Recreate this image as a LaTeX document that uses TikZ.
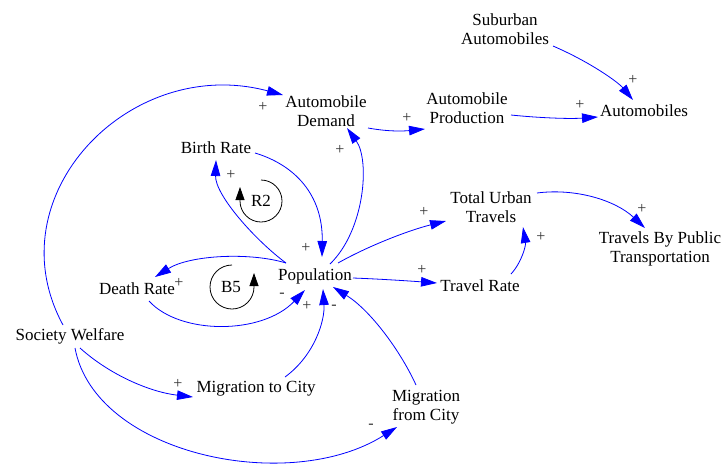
\documentclass[tikz,border=0pt]{standalone}
\usepackage{fontspec}
\setmainfont{Liberation Serif}
\usetikzlibrary{arrows.meta,calc}
\begin{document}
\begin{tikzpicture}[x=1pt,y=-1pt,
  var/.style={align=center,inner sep=1pt,font=\fontsize{17}{19.5}\selectfont},
  link/.style={draw=blue,line width=0.8pt,-{Triangle[length=16pt,width=9.5pt]}},
  pol/.style={font=\fontsize{16}{16}\selectfont,text=black!80,inner sep=0pt},
  loopar/.style={draw=black,line width=0.8pt,-{Triangle[length=13pt,width=9pt]}},
  looplab/.style={font=\fontsize{17}{17}\selectfont,inner sep=0pt}]
\useasboundingbox (0,0) rectangle (722,464);
% variables
\node[var] (sub) at (505,29) {Suburban\\Automobiles};
\node[var] (autos) at (644,111) {Automobiles};
\node[var] (aprod) at (467,108) {Automobile\\Production};
\node[var] (ademand) at (326,111) {Automobile\\Demand};
\node[var] (birth) at (216,148) {Birth Rate};
\node[var] (pop) at (315,276) {Population};
\node[var] (death) at (137,289) {Death Rate};
\node[var] (sw) at (70,336) {Society Welfare};
\node[var] (mtc) at (256,389) {Migration to City};
\node[var] (mfc) at (426,407) {Migration\\from City};
\node[var] (travel) at (480,286) {Travel Rate};
\node[var] (tut) at (491,207) {Total Urban\\Travels};
\node[var] (tbp) at (660,249) {Travels By Public\\Transportation};
% links
\draw[link] ($(sub)+(48,17)$) .. controls (590,62) and (618,82) .. ($(autos)+(-11,-11)$);
\draw[link] ($(aprod)+(44,7)$) .. controls (540,118) and (570,119) .. ($(autos)+(-46,6)$);
\draw[link] ($(ademand)+(42,17)$) .. controls (390,132) and (405,131) .. ($(aprod)+(-42,21)$);
\draw[link] ($(sw)+(-7,-11)$) .. controls (-7,196) and (130,54) .. ($(ademand)+(-43,-16)$);
\draw[link] ($(birth)+(39,5)$) .. controls (295,165) and (323,195) .. ($(pop)+(7,-19)$);
\draw[link] ($(pop)+(-29,-13)$) .. controls (255,240) and (215,195) .. ($(birth)+(0,12)$);
\draw[link] ($(pop)+(-29,-13)$) .. controls (250,252) and (190,255) .. ($(death)+(18,-12)$);
\draw[link] ($(death)+(12,12)$) .. controls (180,335) and (262,335) .. ($(pop)+(-10,14)$);
\draw[link] ($(pop)+(15,-12)$) .. controls (365,230) and (370,160) .. ($(ademand)+(21,17)$);
\draw[link] ($(pop)+(23,-13)$) .. controls (370,245) and (410,230) .. ($(tut)+(-45,14)$);
\draw[link] ($(pop)+(38,2)$) .. controls (380,279) and (410,281) .. ($(travel)+(-43,-3)$);
\draw[link] ($(travel)+(31,-12)$) .. controls (522,262) and (526,245) .. ($(tut)+(32,20)$);
\draw[link] ($(tut)+(46,-14)$) .. controls (575,188) and (615,200) .. ($(tbp)+(-15,-21)$);
\draw[link] ($(mtc)+(29,-12)$) .. controls (315,355) and (325,320) .. ($(pop)+(8,13)$);
\draw[link] ($(mfc)+(-10,-22)$) .. controls (400,350) and (370,310) .. ($(pop)+(18,11)$);
\draw[link] ($(sw)+(10,12)$) .. controls (110,375) and (150,392) .. ($(mtc)+(-63,8)$);
\draw[link] ($(sw)+(5,12)$) .. controls (95,455) and (290,495) .. ($(mfc)+(-29,20)$);
% polarities
\node[pol] (p1) at (633,80) {+};
\node[pol] (p2) at (580,105) {+};
\node[pol] (p3) at (407,118) {+};
\node[pol] (p4) at (263,107) {+};
\node[pol] (p5) at (306,248) {+};
\node[pol] (p6) at (231,175) {+};
\node[pol] (p7) at (179,283) {+};
\node[pol] (p8) at (282,295) {-};
\node[pol] (p9) at (340,150) {+};
\node[pol] (p10) at (424,212) {+};
\node[pol] (p11) at (422,270) {+};
\node[pol] (p12) at (541,237) {+};
\node[pol] (p13) at (642,209) {+};
\node[pol] (p14) at (307,306) {+};
\node[pol] (p15) at (334,307) {-};
\node[pol] (p16) at (178,384) {+};
\node[pol] (p17) at (371,426) {-};
% loops
\node[looplab] (r2) at (261,201) {R2};
\draw[loopar] ($(r2)+(0,-21)$) arc[start angle=-90,end angle=180,radius=21] -- ++(0,-14);
\node[looplab] (b5) at (231,287) {B5};
\draw[loopar] ($(b5)+(1,-22)$) arc[start angle=270,end angle=0,radius=22] -- ++(0,-14);
\end{tikzpicture}
\end{document}
